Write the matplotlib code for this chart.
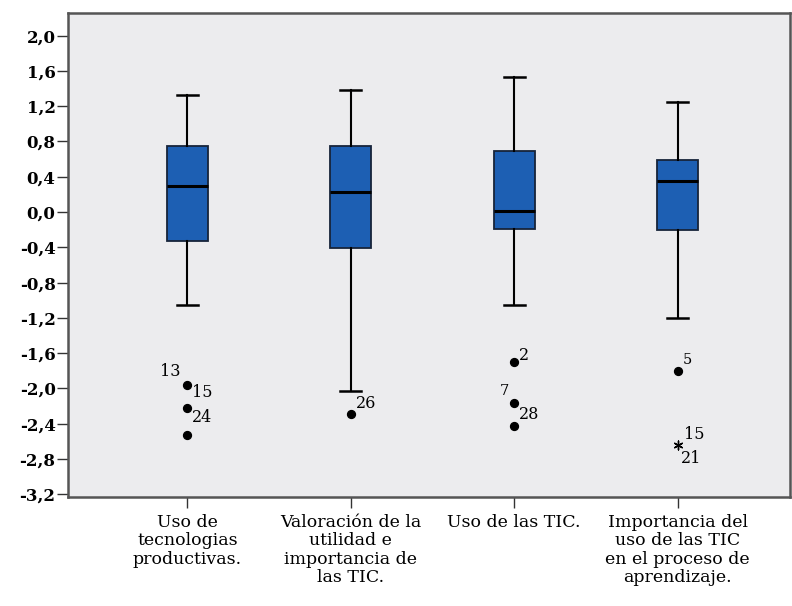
import matplotlib.pyplot as plt

# box statistics
labels = ["Uso de\ntecnologias\nproductivas.",
          "Valoración de la\nutilidad e\nimportancia de\nlas TIC.",
          "Uso de las TIC.",
          "Importancia del\nuso de las TIC\nen el proceso de\naprendizaje."]
whislo = [-1.05, -2.03, -1.05, -1.20]
q1 = [-0.33, -0.41, -0.19, -0.20]
med = [0.29, 0.23, 0.01, 0.35]
q3 = [0.75, 0.75, 0.69, 0.59]
whishi = [1.33, 1.38, 1.53, 1.25]

# outliers (group, value)
out_grp = [1, 1, 1, 2, 3, 3, 3, 4]
out_val = [-1.96, -2.22, -2.53, -2.29, -1.70, -2.16, -2.43, -1.80]
ext_grp = [4]
ext_val = [-2.64]

yticks = [2.0, 1.6, 1.2, 0.8, 0.4, 0.0, -0.4, -0.8, -1.2, -1.6, -2.0, -2.4, -2.8, -3.2]

plt.rcParams['font.family'] = ['DejaVu Serif']

fig = plt.figure(figsize=(7.92, 6.06), dpi=100)
ax = fig.add_axes([0.086, 0.18, 0.912, 0.799])
ax.set_facecolor('#ececee')

stats = []
for i in range(4):
    stats.append({'whislo': whislo[i], 'q1': q1[i], 'med': med[i],
                  'q3': q3[i], 'whishi': whishi[i], 'fliers': []})

ax.bxp(stats, positions=[1, 2, 3, 4], widths=0.25, patch_artist=True,
       showfliers=False,
       boxprops=dict(facecolor='#1d5fb3', edgecolor='#17243a', linewidth=1.3),
       medianprops=dict(color='black', linewidth=2.2),
       whiskerprops=dict(color='black', linewidth=1.5),
       capprops=dict(color='black', linewidth=1.8),
       capwidths=0.13)

ax.scatter(out_grp, out_val, s=32, color='black', zorder=3)
ax.scatter(ext_grp, ext_val, s=40, marker=(6, 2, 0), color='black', zorder=3, linewidths=1)

# case labels
fs = 11.5
ax.text(0.96, -1.90, "13", fontsize=fs, ha='right', va='bottom')
ax.text(1.03, -2.05, "15", fontsize=fs, ha='left', va='center')
ax.text(1.03, -2.33, "24", fontsize=fs, ha='left', va='center')
ax.text(2.03, -2.17, "26", fontsize=fs, ha='left', va='center')
ax.text(3.03, -1.63, "2", fontsize=fs, ha='left', va='center')
ax.text(2.97, -2.03, "7", fontsize=fs - 1, ha='right', va='center')
ax.text(3.03, -2.29, "28", fontsize=fs, ha='left', va='center')
ax.text(4.03, -1.68, "5", fontsize=fs - 1, ha='left', va='center')
ax.text(4.04, -2.52, "15", fontsize=fs, ha='left', va='center')
ax.text(4.02, -2.79, "21", fontsize=fs, ha='left', va='center')

ax.set_xlim(0.27, 4.69)
ax.set_ylim(-3.23, 2.26)
ax.set_yticks(yticks)
ax.set_yticklabels([("%.1f" % v).replace('.', ',') for v in yticks],
                   fontsize=12, fontweight='bold')
ax.set_xticks([1, 2, 3, 4])
ax.set_xticklabels(labels, fontsize=12.5, linespacing=1.12, va='top')
ax.tick_params(axis='both', length=8, width=1, color='#333333', direction='out')
ax.tick_params(axis='y', pad=1)
ax.tick_params(axis='x', pad=4)

for s in ax.spines.values():
    s.set_color('#555555')
    s.set_linewidth(1.8)

fig.savefig('out.png', dpi=100)
